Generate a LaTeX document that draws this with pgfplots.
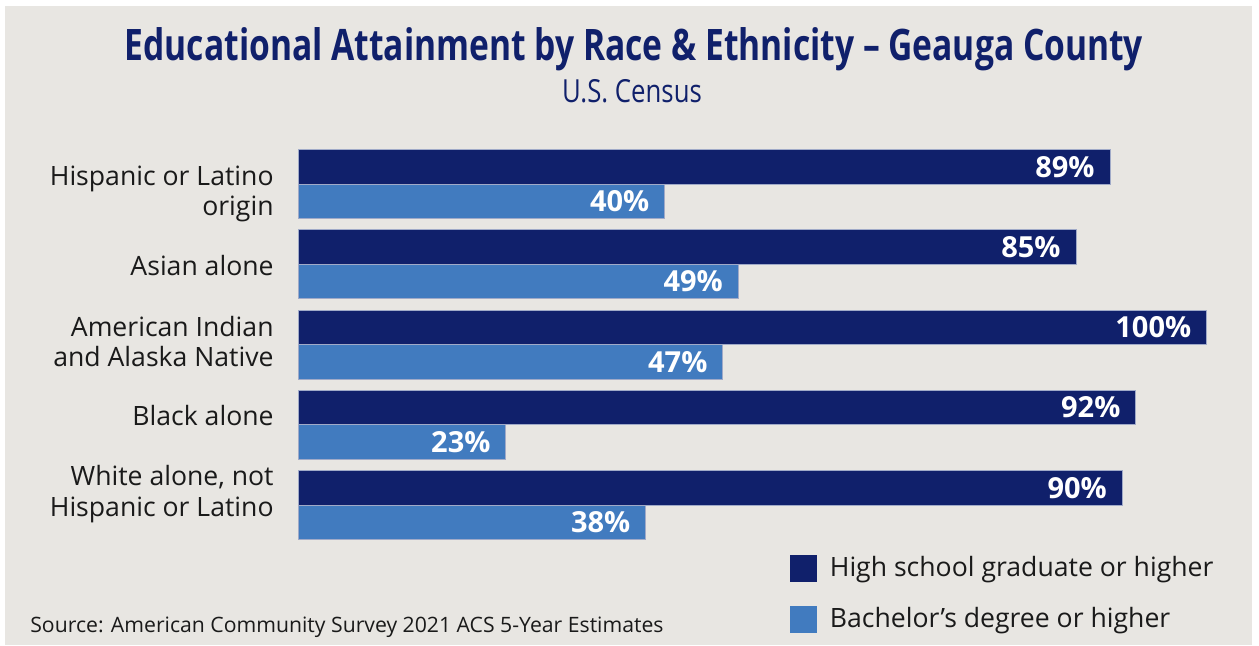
\documentclass[border=0pt]{standalone}
\usepackage{pgfplots}
\pgfplotsset{compat=1.18}
\usepackage{fontspec}
\setmainfont{Open Sans}
\newfontfamily\titlefont[FakeStretch=0.774]{Open Sans}
\newfontfamily\subfont[FakeStretch=0.81]{Open Sans}

\definecolor{bg}{HTML}{E8E6E2}
\definecolor{navy}{HTML}{10206B}
\definecolor{lblue}{HTML}{417BBF}
\definecolor{ink}{HTML}{1A1A1A}
\definecolor{edge}{RGB}{160,170,200}

% 1 px of the reference = 0.5pt; bars start at px 299, 100% at px 1207
\newcommand{\catfont}{\fontsize{13.3}{16}\selectfont\color{ink}}

\begin{document}
\begin{tikzpicture}
\begin{axis}[
    x=4.5385pt, y=40.125pt,
    y dir=reverse,
    xmin=0, xmax=100,
    ymin=-0.5, ymax=4.5,
    axis lines=none,
    xtick=\empty, ytick=\empty,
    clip=false,
    xbar, bar width=17.25pt, bar shift=0pt,
    point meta=explicit symbolic,
    nodes near coords,
    nodes near coords align={anchor=east},
    every node near coord/.append style={anchor=east, xshift=-7.5pt, inner sep=0pt,
        text=white, font=\fontsize{14.5}{16}\selectfont\bfseries},
    legend style={at={(axis cs:54.09,4.586)}, anchor=north west,
        draw=none, fill=none, inner sep=0pt,
        font=\catfont, row sep=10pt},
    legend cell align=left,
    legend image code/.code={\fill[#1, draw=none] (0pt,-6.75pt) rectangle (13.5pt,6.75pt);
        \path (17.5pt,0pt);},
]
% background
\fill[white] (axis cs:-32.94,-2.293) rectangle (axis cs:105.76,5.745);
\fill[bg] (axis cs:-32.39,-2.218) rectangle (axis cs:104.99,5.745);

\addplot[fill=navy, draw=edge, line width=0.5pt] coordinates {
    (89.35,-0.215) [89\%]
    (85.6,0.785) [85\%]
    (100,1.785) [100\%]
    (92.2,2.785) [92\%]
    (90.7,3.785) [90\%]
};
\addlegendentry{High school graduate or higher}
\addplot[fill=lblue, draw=edge, line width=0.5pt] coordinates {
    (40.3,0.215) [40\%]
    (48.4,1.215) [49\%]
    (46.7,2.215) [47\%]
    (22.8,3.215) [23\%]
    (38.2,4.215) [38\%]
};
\addlegendentry{Bachelor’s degree or higher}

% titles
\node[anchor=base, text=navy, font=\titlefont\bfseries\fontsize{21.7}{24}\selectfont]
    at (axis cs:36.91,-1.533) {Educational Attainment by Race \& Ethnicity – Geauga County};
\node[anchor=base, text=navy, font=\subfont\fontsize{15.9}{18}\selectfont]
    at (axis cs:36.69,-1.022) {U.S. Census};

% category labels
\begin{scope}[every node/.style={anchor=base east, inner sep=0pt, font=\catfont}]
\node at (axis cs:-2.754,0.0125) {Hispanic or Latino};
\node at (axis cs:-2.754,0.386) {origin};
\node at (axis cs:-2.754,1.146) {Asian alone};
\node at (axis cs:-2.754,1.894) {American Indian};
\node at (axis cs:-2.754,2.268) {and Alaska Native};
\node at (axis cs:-2.754,3.003) {Black alone};
\node at (axis cs:-2.754,3.751) {White alone, not};
\node at (axis cs:-2.754,4.137) {Hispanic or Latino};
\end{scope}

% source
\node[anchor=base west, inner sep=0pt, text=ink, font=\fontsize{10.6}{12}\selectfont]
    at (axis cs:-29.64,5.583) {Source: American Community Survey 2021 ACS 5-Year Estimates};
\end{axis}
\end{tikzpicture}
\end{document}
